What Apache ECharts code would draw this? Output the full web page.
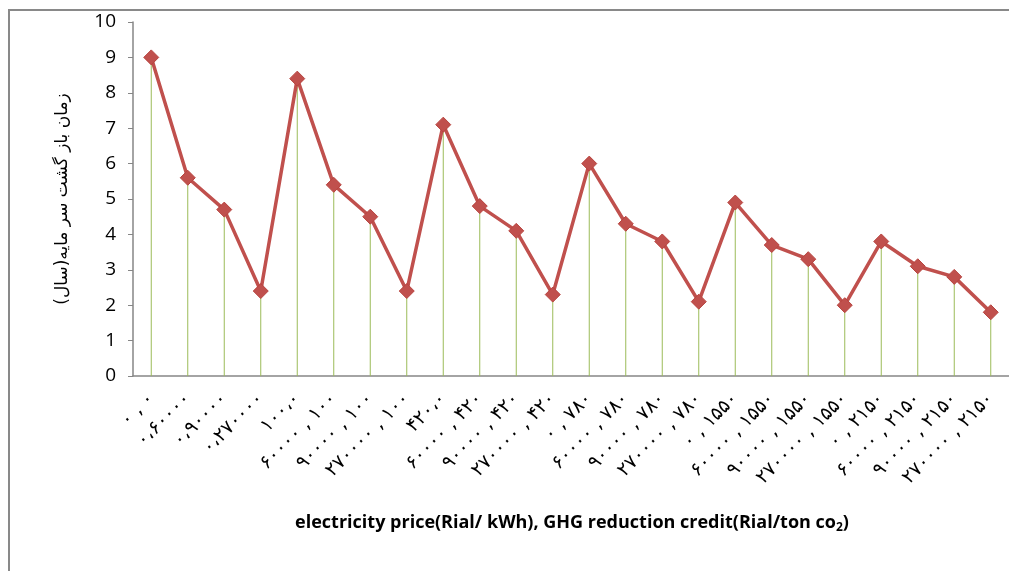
<!DOCTYPE html>
<html>
<head>
<meta charset="utf-8">
<script src="https://cdn.jsdelivr.net/npm/echarts@6/dist/echarts.min.js"></script>
<style>
html,body{margin:0;padding:0;background:#fff;}
#c{width:1009px;height:571px;}
</style>
</head>
<body>
<div id="c"></div>
<script>
// Category labels (visual order as in the reference)
const categories = [
  "۰ , ۰", "۰،۶۰۰۰۰", "۰،۹۰۰۰۰", "۰،۲۷۰۰۰۰",
  "۱۰۰،۰", "۶۰۰۰۰ , ۱۰۰", "۹۰۰۰۰ , ۱۰۰", "۲۷۰۰۰۰ , ۱۰۰",
  "۴۲۰،۰", "۶۰۰۰۰ , ۴۲۰", "۹۰۰۰۰ , ۴۲۰", "۲۷۰۰۰۰ , ۴۲۰",
  "۰ , ۷۸۰", "۶۰۰۰۰ , ۷۸۰", "۹۰۰۰۰ , ۷۸۰", "۲۷۰۰۰۰ , ۷۸۰",
  "۰ , ۱۵۵۰", "۶۰۰۰۰ , ۱۵۵۰", "۹۰۰۰۰ , ۱۵۵۰", "۲۷۰۰۰۰ , ۱۵۵۰",
  "۰ , ۲۱۵۰", "۶۰۰۰۰ , ۲۱۵۰", "۹۰۰۰۰ , ۲۱۵۰", "۲۷۰۰۰۰ , ۲۱۵۰"
];
// Payback period (years)
const payback = [
  9.0, 5.6, 4.7, 2.4,
  8.4, 5.4, 4.5, 2.4,
  7.1, 4.8, 4.1, 2.3,
  6.0, 4.3, 3.8, 2.1,
  4.9, 3.7, 3.3, 2.0,
  3.8, 3.1, 2.8, 1.8
];
const yAxisName = "\u200Fزمان باز گشت سر مایه(سال)\u200F";

const chart = echarts.init(document.getElementById('c'), null, {renderer: 'canvas'});
chart.setOption({
  animation: false,
  backgroundColor: '#ffffff',
  grid: {left: 133, right: -3, top: 22, bottom: 195},
  xAxis: {
    type: 'category',
    data: categories,
    boundaryGap: true,
    axisLine: {show: true, lineStyle: {color: '#868686', width: 1.5}},
    axisTick: {show: false},
    axisLabel: {
      interval: 0, rotate: 45, margin: 20,
      fontFamily: 'DejaVu Sans', fontSize: 19, color: '#000'
    },
    splitLine: {show: false}
  },
  yAxis: {
    type: 'value',
    min: 0, max: 10, interval: 1,
    name: yAxisName,
    nameLocation: 'middle',
    nameGap: 62,
    nameTextStyle: {fontFamily: 'DejaVu Sans', fontSize: 17, color: '#000'},
    axisLine: {show: true, lineStyle: {color: '#868686', width: 1.5}},
    axisTick: {show: true, inside: false, length: 5, lineStyle: {color: '#868686'}},
    axisLabel: {margin: 17, fontFamily: 'Open Sans', fontSize: 19, color: '#000'},
    splitLine: {show: false}
  },
  series: [
    {
      type: 'bar',
      data: payback,
      barWidth: 1,
      silent: true,
      itemStyle: {color: '#9bbb59'},
      z: 1
    },
    {
      type: 'line',
      data: payback,
      symbol: 'diamond',
      symbolSize: 15,
      lineStyle: {color: '#c0504d', width: 3.5},
      itemStyle: {color: '#c0504d', borderColor: '#b8443f', borderWidth: 1},
      z: 3
    }
  ],
  graphic: [
    {
      type: 'rect',
      shape: {x: 9, y: 10, width: 1200, height: 800},
      style: {fill: 'none', stroke: '#898989', lineWidth: 2},
      silent: true, z: -1
    },
    {
      type: 'text',
      x: 572,
      y: 523,
      style: {
        text: '{b|electricity price(Rial/ kWh), GHG reduction credit(Rial/ton co}{s|2}{b|)}',
        align: 'center',
        verticalAlign: 'middle',
        rich: {
          b: {fontFamily: 'Open Sans', fontWeight: 'bold', fontSize: 18, fill: '#000', color: '#000'},
          s: {fontFamily: 'Open Sans', fontWeight: 'bold', fontSize: 12, fill: '#000', color: '#000', padding: [9, 0, 0, 0]}
        }
      }
    }
  ]
});
</script>
</body>
</html>
